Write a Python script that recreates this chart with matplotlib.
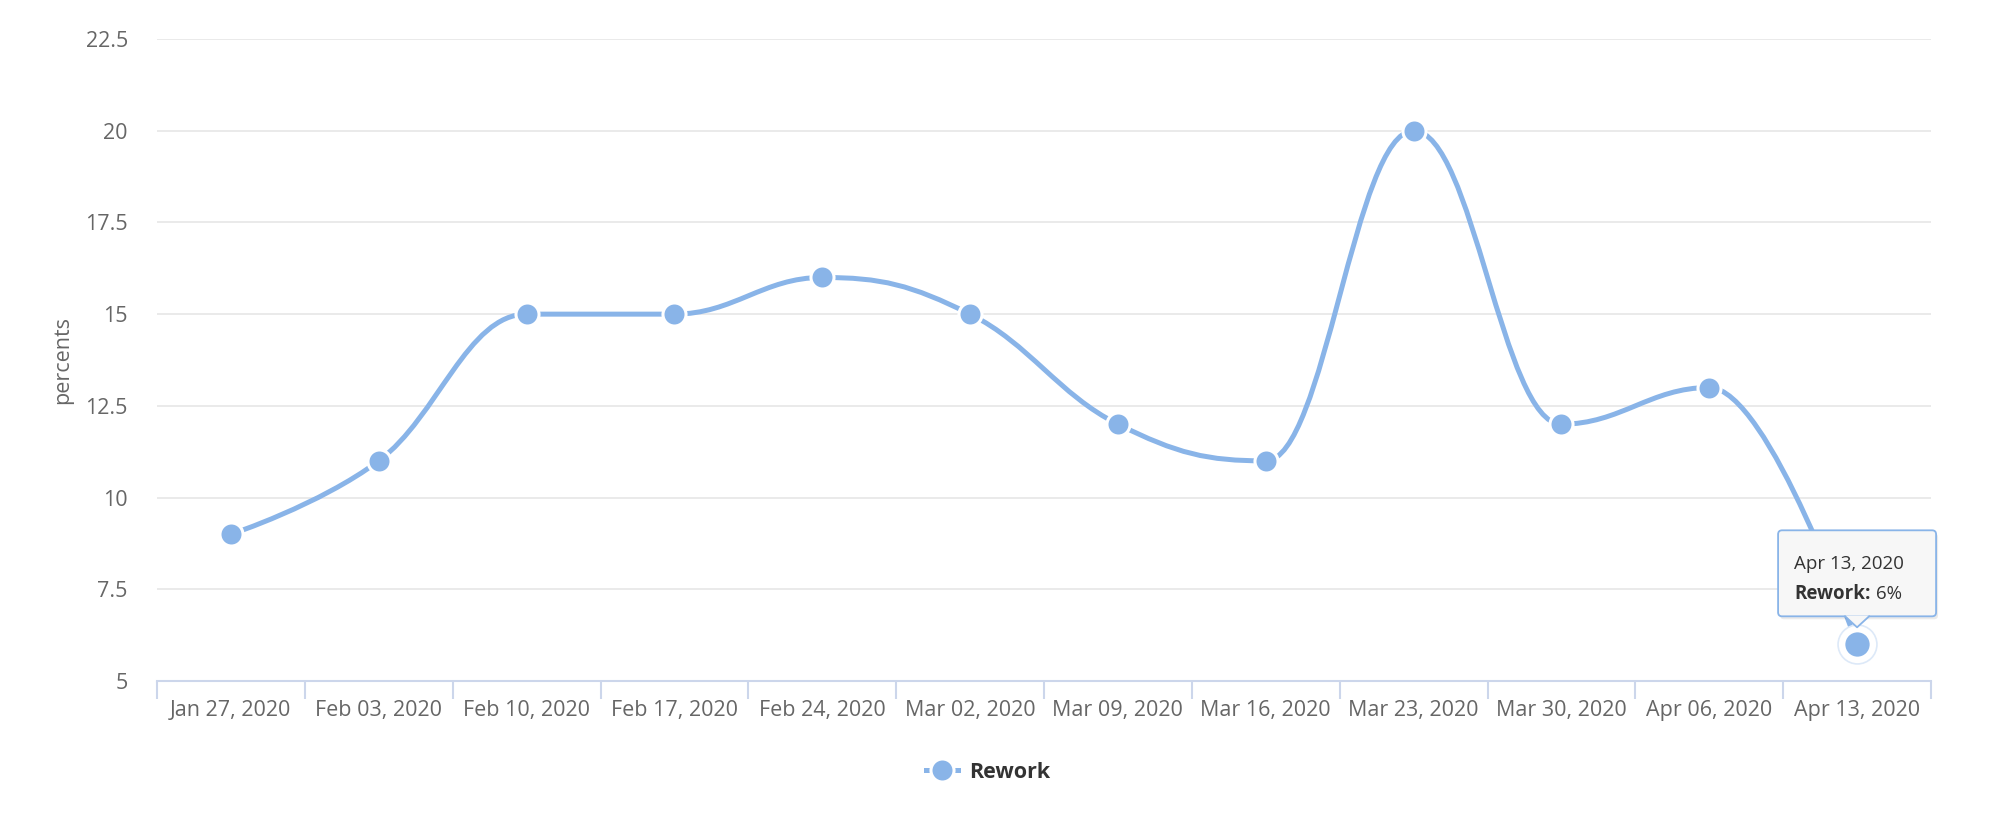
import matplotlib.pyplot as plt
import numpy as np
from matplotlib.path import Path
from matplotlib.patches import PathPatch, FancyBboxPatch, Polygon
from matplotlib.lines import Line2D
from matplotlib.transforms import IdentityTransform

plt.rcParams['font.family'] = ['Open Sans', 'DejaVu Sans']

# данные графика
dates = ['Jan 27, 2020', 'Feb 03, 2020', 'Feb 10, 2020', 'Feb 17, 2020',
         'Feb 24, 2020', 'Mar 02, 2020', 'Mar 09, 2020', 'Mar 16, 2020',
         'Mar 23, 2020', 'Mar 30, 2020', 'Apr 06, 2020', 'Apr 13, 2020']
rework = [9, 11, 15, 15, 16, 15, 12, 11, 20, 12, 13, 6]
y_ticks = [5, 7.5, 10, 12.5, 15, 17.5, 20, 22.5]
series_name = 'Rework'

LINE = '#89b4e8'
TEXT = '#666666'
FS = 15.5
TIP_FS = 13.5


# контрольные точки сплайна как в highcharts
def spline_path(xs, ys, smoothing=1.5):
    n = len(xs)
    denom = smoothing + 1
    right = [None] * n
    left = [None] * n
    for i in range(1, n - 1):
        px, py = xs[i], ys[i]
        lx, ly = xs[i - 1], ys[i - 1]
        nx, ny = xs[i + 1], ys[i + 1]
        lcx = (smoothing * px + lx) / denom
        lcy = (smoothing * py + ly) / denom
        rcx = (smoothing * px + nx) / denom
        rcy = (smoothing * py + ny) / denom
        corr = 0
        if rcx != lcx:
            corr = (rcy - lcy) * (rcx - px) / (rcx - lcx) + py - rcy
        lcy += corr
        rcy += corr
        if lcy > ly and lcy > py:
            lcy = max(ly, py)
            rcy = 2 * py - lcy
        elif lcy < ly and lcy < py:
            lcy = min(ly, py)
            rcy = 2 * py - lcy
        if rcy > ny and rcy > py:
            rcy = max(ny, py)
            lcy = 2 * py - rcy
        elif rcy < ny and rcy < py:
            rcy = min(ny, py)
            lcy = 2 * py - rcy
        left[i] = (lcx, lcy)
        right[i] = (rcx, rcy)

    verts = [(xs[0], ys[0])]
    codes = [Path.MOVETO]
    for i in range(1, n):
        c1 = right[i - 1] if right[i - 1] else (xs[i - 1], ys[i - 1])
        c2 = left[i] if left[i] else (xs[i], ys[i])
        verts += [c1, c2, (xs[i], ys[i])]
        codes += [Path.CURVE4] * 3
    return Path(verts, codes)


fig = plt.figure(figsize=(19.92, 8.18), dpi=100)
ax = fig.add_axes([157 / 1992, 1 - 681 / 818, 1774 / 1992, 642 / 818])

x = np.arange(len(dates))
ax.set_xlim(-0.5, len(dates) - 0.5)
ax.set_ylim(y_ticks[0], y_ticks[-1])

# сетка
for yt in y_ticks[1:]:
    ax.axhline(yt, color='#e6e6e6', lw=1.2, zorder=0)

ax.add_patch(PathPatch(spline_path(list(x), rework), fill=False, edgecolor=LINE,
                       lw=3.6, capstyle='round', joinstyle='round', zorder=2))
ax.plot(x[:-1], rework[:-1], 'o', ms=16.6, mfc=LINE, mec='white', mew=2.2, zorder=3)

# последняя точка в состоянии наведения
last_x, last_y = x[-1], rework[-1]
ax.plot(last_x, last_y, 'o', ms=28, mfc='white', mec='#dde9f8', mew=1.2, zorder=3)
ax.plot(last_x, last_y, 'o', ms=19, mfc=LINE, mec='white', mew=1.5, zorder=4)

# оси
for s in ['top', 'right', 'left']:
    ax.spines[s].set_visible(False)
ax.spines['bottom'].set_color('#ccd6eb')
ax.spines['bottom'].set_linewidth(1.5)

ax.set_xticks(x)
ax.set_xticklabels(dates)
ax.set_xticks(np.arange(-0.5, len(dates)), minor=True)
ax.tick_params(axis='x', which='major', length=0, pad=14, labelsize=FS, labelcolor=TEXT)
ax.tick_params(axis='x', which='minor', length=13, width=1.5, color='#ccd6eb')
ax.set_yticks(y_ticks)
ax.set_yticklabels([f'{v:g}' for v in y_ticks])
ax.tick_params(axis='y', length=0, pad=21, labelsize=FS, labelcolor=TEXT)

fig.text(63 / 1992, 1 - 360 / 818, 'percents', rotation=90, ha='center', va='center',
         fontsize=FS, color=TEXT)

# подсказка, смещения в пикселях от последней точки
idt = IdentityTransform()
fig.canvas.draw()
tr_pt = ax.transData.transform((last_x, last_y))


def disp(dx, dy):
    return (tr_pt[0] + dx, tr_pt[1] + dy)


sh = FancyBboxPatch(disp(-77, 25), 158, 86, boxstyle='round,pad=0,rounding_size=4',
                    fc=(0, 0, 0, 0.08), ec='none', transform=idt, zorder=5, clip_on=False)
box = FancyBboxPatch(disp(-79, 28), 158, 86, boxstyle='round,pad=0,rounding_size=4',
                     fc='#f7f7f7', ec=LINE, lw=1.3, transform=idt, zorder=6, clip_on=False)
ptr = Polygon([disp(-12, 28.8), disp(0, 17), disp(12, 28.8)], closed=True,
              fc='#f7f7f7', ec='none', transform=idt, zorder=7, clip_on=False)
px_ = [disp(-12, 28), disp(0, 17), disp(12, 28)]
ptr_edge = Line2D([p[0] for p in px_], [p[1] for p in px_], color=LINE, lw=1.3,
                  transform=idt, zorder=7)
for p in [sh, box, ptr, ptr_edge]:
    ax.add_artist(p)

ax.text(*disp(-63, 75), dates[-1], transform=idt, fontsize=TIP_FS, color='#333333', zorder=8)
t2 = ax.text(*disp(-63, 45), series_name + ':', transform=idt, fontsize=TIP_FS,
             color='#333333', fontweight='bold', zorder=8)
fig.canvas.draw()
bb = t2.get_window_extent()
ax.text(bb.x1 + 5, disp(0, 45)[1], f'{last_y}%', transform=idt, fontsize=TIP_FS,
        color='#333333', zorder=8)

# легенда
handle = Line2D([], [], color=LINE, lw=3.6, marker='o', ms=16.6, mfc=LINE, mec='white',
                mew=2.2)
fig.legend([handle], [series_name], loc='center', bbox_to_anchor=(988 / 1992, 1 - 772 / 818),
           frameon=False, handlelength=1.5, handletextpad=0.5,
           prop={'weight': 'bold', 'size': 15.5}, labelcolor='#333333')

fig.savefig('out.png', dpi=100)
